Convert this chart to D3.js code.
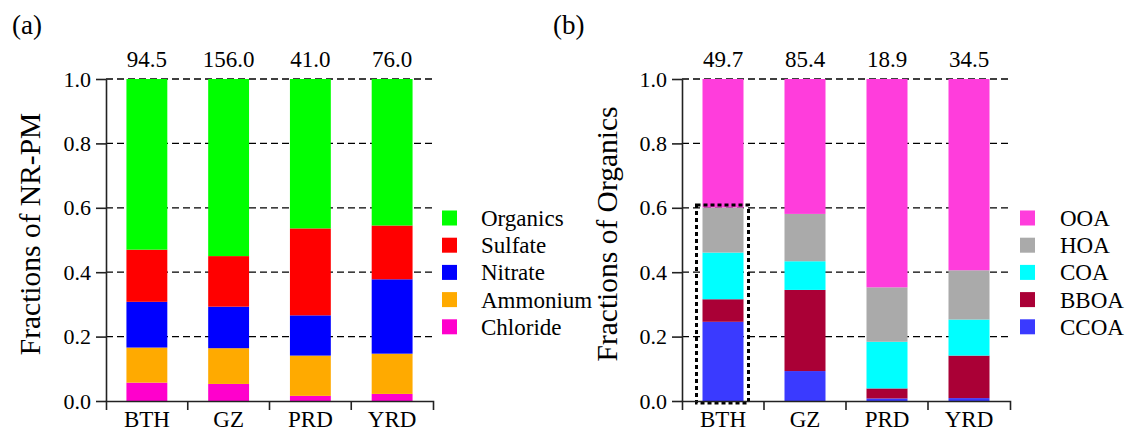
<!DOCTYPE html>
<html>
<head>
<meta charset="utf-8">
<script src="https://cdn.jsdelivr.net/npm/d3@7"></script>
<style>
  html, body { margin: 0; padding: 0; background: #fff; }
</style>
</head>
<body>
<svg id="chart" width="1126" height="431"></svg>
<script>
// ---------- DATA ----------
const regions = ["BTH", "GZ", "PRD", "YRD"];

// Panel (a): NR-PM composition (fractions), bottom to top
const seriesA = ["Chloride", "Ammonium", "Nitrate", "Sulfate", "Organics"];
const chloride = [0.057, 0.053, 0.016, 0.022];
const ammonium = [0.109, 0.111, 0.125, 0.125];
const nitrate  = [0.142, 0.129, 0.125, 0.231];
const sulfate  = [0.162, 0.157, 0.270, 0.167];
const organics = [0.530, 0.550, 0.464, 0.455];
const totalsA  = ["94.5", "156.0", "41.0", "76.0"];
const colorsA  = ["#ff00cc", "#ffaa00", "#0000ff", "#ff0000", "#00ff00"];

// Panel (b): organic aerosol factors (fractions), bottom to top
const seriesB = ["CCOA", "BBOA", "COA", "HOA", "OOA"];
const ccoa = [0.246, 0.093, 0.008, 0.009];
const bboa = [0.070, 0.252, 0.031, 0.132];
const coa  = [0.145, 0.089, 0.145, 0.112];
const hoa  = [0.140, 0.147, 0.169, 0.153];
const ooa  = [0.399, 0.419, 0.647, 0.594];
const totalsB = ["49.7", "85.4", "18.9", "34.5"];
const colorsB = ["#3a3aff", "#aa0036", "#00ffff", "#aaaaaa", "#ff3ddc"];

const yTicks = [0, 0.2, 0.4, 0.6, 0.8, 1.0];

// ---------- DRAW ----------
const SERIF = '"Liberation Serif", "Times New Roman", Times, serif';
const svg = d3.select("#chart").style("font-family", SERIF);
const FONT_TICK = 22, FONT_LAB = 23;

function panel(opts) {
  const { left, right, top, bottom, series, values, colors, totals, title, tag, tagX, titleX, legendSq, legendTx, highlight } = opts;
  const g = svg.append("g");
  const x = d3.scaleBand().domain(regions).range([left, right]).paddingInner(0).paddingOuter(0);
  const y = d3.scaleLinear().domain([0, 1]).range([bottom, top]);
  const bw = x.bandwidth();

  // gridlines
  g.append("g").selectAll("line").data(yTicks.filter(d => d > 0)).join("line")
    .attr("x1", left).attr("x2", right)
    .attr("y1", d => y(d)).attr("y2", d => y(d))
    .attr("stroke", "#000").attr("stroke-width", 1.3).attr("stroke-dasharray", "7,4");

  // stacked bars
  const rows = regions.map((r, i) => {
    const o = { region: r };
    series.forEach((s, k) => { o[s] = values[k][i]; });
    return o;
  });
  const stacked = d3.stack().keys(series)(rows);
  g.append("g").selectAll("g").data(stacked).join("g")
    .attr("fill", (d, k) => colors[k])
    .selectAll("rect").data(d => d).join("rect")
    .attr("x", d => x(d.data.region) + bw * 0.25)
    .attr("width", bw * 0.5)
    .attr("y", d => y(Math.min(d[1], 1)))
    .attr("height", d => y(d[0]) - y(Math.min(d[1], 1)));

  // highlight dotted box
  if (highlight) {
    const i = regions.indexOf(highlight.region);
    const topVal = stacked[highlight.upto][i][1];
    g.append("rect")
      .attr("x", x(highlight.region) + bw * 0.25 - 6)
      .attr("width", bw * 0.5 + 11)
      .attr("y", y(topVal) - 2.5)
      .attr("height", y(0) - y(topVal) + 4.5)
      .attr("fill", "none").attr("stroke", "#000")
      .attr("stroke-width", 3).attr("stroke-dasharray", "4,3");
  }

  // y axis
  const ya = g.append("g").attr("transform", `translate(${left},0)`)
    .call(d3.axisLeft(y).tickValues(yTicks).tickFormat(d3.format(".1f")).tickSize(10).tickSizeOuter(0).tickPadding(5));
  ya.attr("font-family", null).attr("font-size", null);
  ya.selectAll("text").style("font-family", SERIF).style("font-size", FONT_TICK + "px").attr("fill", "#000");
  ya.selectAll("line, path").attr("stroke", "#222").attr("stroke-width", 1.6);

  // x axis
  const xa = g.append("g").attr("transform", `translate(0,${bottom})`)
    .call(d3.axisBottom(x).tickSize(0).tickSizeOuter(9).tickPadding(10));
  xa.attr("font-family", null).attr("font-size", null);
  xa.selectAll("text").style("font-family", SERIF).style("font-size", FONT_LAB + "px").attr("fill", "#000");
  xa.selectAll("path").attr("stroke", "#222").attr("stroke-width", 1.6);
  xa.selectAll("line.bound").data(regions.slice(1)).join("line").attr("class", "bound")
    .attr("x1", d => x(d)).attr("x2", d => x(d)).attr("y1", 0).attr("y2", 9)
    .attr("stroke", "#222").attr("stroke-width", 1.6);

  // totals above bars
  g.append("g").selectAll("text").data(regions).join("text")
    .attr("x", d => x(d) + bw / 2).attr("y", 67)
    .attr("text-anchor", "middle")
    .style("font-family", SERIF).style("font-size", FONT_LAB + "px")
    .text((d, i) => totals[i]);

  // axis title
  g.append("text")
    .attr("transform", `translate(${titleX},${(top + bottom) / 2 - 6}) rotate(-90)`)
    .attr("text-anchor", "middle")
    .style("font-family", SERIF).style("font-size", "29.5px")
    .text(title);

  // panel tag
  g.append("text").attr("x", tagX).attr("y", 34)
    .style("font-family", SERIF).style("font-size", "27px").text(tag);

  // legend (top to bottom = reverse of stacking order)
  const legendItems = series.map((s, k) => ({ s, c: colors[k] })).reverse();
  const lg = g.append("g").selectAll("g").data(legendItems).join("g")
    .attr("transform", (d, i) => `translate(0,${218 + i * 27.2})`);
  lg.append("rect").attr("x", legendSq).attr("y", -7.5).attr("width", 15).attr("height", 15)
    .attr("fill", d => d.c);
  lg.append("text").attr("x", legendTx).attr("y", 0).attr("dy", "0.35em")
    .style("font-family", SERIF).style("font-size", FONT_LAB + "px").text(d => d.s);
}

panel({
  left: 106, right: 433, top: 79, bottom: 401,
  series: seriesA, values: [chloride, ammonium, nitrate, sulfate, organics],
  colors: colorsA, totals: totalsA, title: "Fractions of NR-PM",
  tag: "(a)", tagX: 12, titleX: 40, legendSq: 442, legendTx: 481
});

panel({
  left: 682, right: 1010, top: 79, bottom: 401,
  series: seriesB, values: [ccoa, bboa, coa, hoa, ooa],
  colors: colorsB, totals: totalsB, title: "Fractions of Organics",
  tag: "(b)", tagX: 553, titleX: 617, legendSq: 1020, legendTx: 1060,
  highlight: { region: "BTH", upto: 3 }
});
</script>
</body>
</html>
